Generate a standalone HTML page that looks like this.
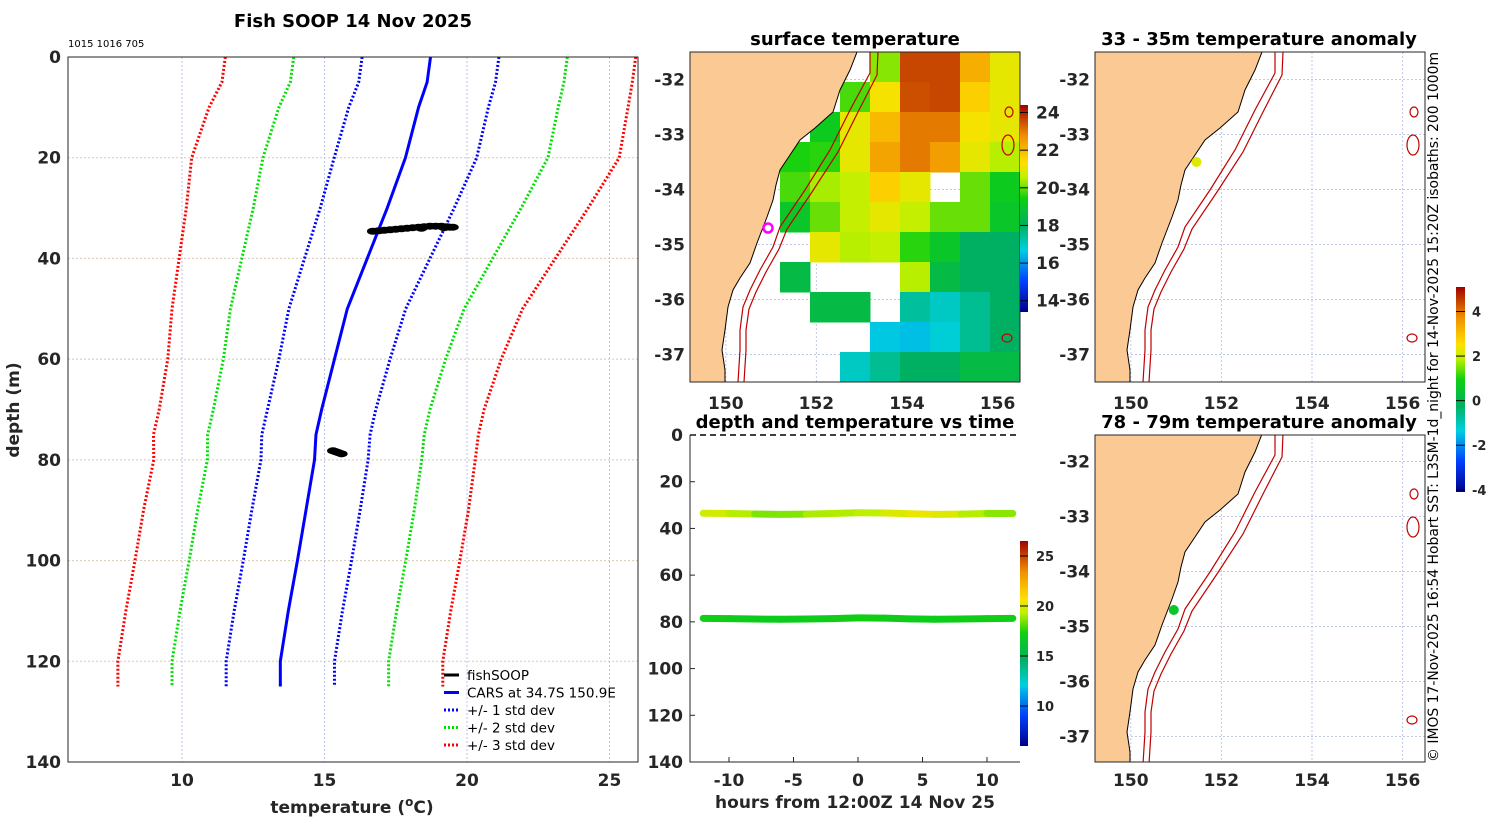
<!DOCTYPE html>
<html><head><meta charset="utf-8">
<style>
html,body{margin:0;padding:0;background:#fff;}
svg{display:block;font-family:"DejaVu Sans","Liberation Sans",sans-serif;}
.t{font-weight:bold;fill:#262626;font-size:17px;}
.ttl{font-weight:bold;fill:#000;font-size:18px;}
</style></head>
<body>
<svg id="fig" width="1500" height="820" viewBox="0 0 1500 820" xmlns="http://www.w3.org/2000/svg">
<defs>
<clipPath id="cpM"><rect x="690" y="52" width="330" height="330"/></clipPath>
<clipPath id="cpR1"><rect x="1095" y="52" width="330" height="330"/></clipPath>
<clipPath id="cpR2"><rect x="1095" y="435" width="330" height="327"/></clipPath>
<linearGradient id="gSST" x1="0" y1="1" x2="0" y2="0">
<stop offset="0" stop-color="#00008b"/><stop offset="0.15" stop-color="#0040ff"/><stop offset="0.3" stop-color="#00d0e0"/><stop offset="0.42" stop-color="#00b060"/><stop offset="0.55" stop-color="#10d010"/><stop offset="0.65" stop-color="#c0f000"/><stop offset="0.72" stop-color="#ffe000"/><stop offset="0.85" stop-color="#f09000"/><stop offset="1" stop-color="#a00000"/>
</linearGradient>
</defs>
<g id="root"></g>
</svg>
<script>
// ---------- data ----------
const depthLevels = [0,5,10,20,30,40,50,60,70,75,80,90,100,110,120,125];
const carsTemp = [18.72,18.6,18.3,17.84,17.2,16.5,15.8,15.35,14.9,14.7,14.65,14.35,14.05,13.73,13.45,13.45];
const carsStd = [2.4,2.4,2.45,2.5,2.35,2.2,2.05,1.95,1.9,1.9,1.88,1.9,1.9,1.9,1.9,1.9];
const soopDepth = [34.6,34.5,34.4,34.3,34.2,34.1,34.0,33.9,33.8,33.7,33.6,33.6,33.6,33.7,33.8,33.8,33.9,34.0,78.2,78.4,78.6,78.8];
const soopTemp = [16.7,16.9,17.1,17.3,17.5,17.7,17.9,18.1,18.3,18.5,18.7,18.9,19.1,19.3,19.4,19.5,19.2,18.4,15.3,15.4,15.5,15.6];
const tsHours = [-12,-10,-8,-6,-4,-2,0,2,4,6,8,10,12];
const tsDepth1 = [33.5,33.6,33.8,34.0,33.9,33.6,33.3,33.4,33.7,34.0,33.9,33.6,33.6];
const tsTemp1 = [19.8,19.6,18.8,18.3,18.9,19.3,19.0,19.6,20.2,20.4,19.6,18.8,18.6];
const tsDepth2 = [78.5,78.6,78.8,78.9,78.8,78.6,78.3,78.4,78.7,78.9,78.8,78.6,78.5];
const tsTemp2 = [17.2,17.0,16.9,16.8,16.9,17.0,17.2,17.1,17.0,16.9,17.0,17.1,17.2];
// SST grid: 11x11 cells over map, null = no data
const sstGrid = [
[null,null,null,null,null,null,20.2,23.6,23.6,22.2,21.0],
[null,null,null,null,null,19.8,21.2,23.5,23.6,21.6,21.0],
[null,null,null,null,19.2,21.0,22.0,23.0,23.0,21.2,21.0],
[null,null,null,19.5,19.6,21.0,22.4,23.0,22.5,21.0,20.5],
[null,null,null,19.8,20.4,20.6,21.6,21.0,null,20.0,19.2],
[null,null,null,19.0,20.0,20.6,21.0,20.6,20.0,20.0,19.0],
[null,null,null,null,21.0,20.5,20.6,19.6,19.0,18.0,18.0],
[null,null,null,18.5,null,null,null,20.5,18.5,18.0,18.0],
[null,null,null,null,18.5,18.5,null,17.4,17.0,17.5,18.0],
[null,null,null,null,null,null,16.6,16.5,16.8,17.5,18.0],
[null,null,null,null,null,17.0,17.5,18.0,18.0,18.5,18.5]];
const sstTicks = [14,16,18,20,22,24];
const tsTicks = [10,15,20,25];
const anomTicks = [-4,-2,0,2,4];
const anom1 = 2.2, anom2 = 0.6;

// ---------- helpers ----------
const NS="http://www.w3.org/2000/svg";
const root=document.getElementById('root');
function el(tag,attrs,parent,txt){const e=document.createElementNS(NS,tag);for(const k in attrs)e.setAttribute(k,attrs[k]);if(txt!==undefined)e.textContent=txt;(parent||root).appendChild(e);return e;}
const stops=[[0,[0,0,139]],[0.15,[0,64,255]],[0.3,[0,208,224]],[0.42,[0,176,96]],[0.55,[16,208,16]],[0.65,[192,240,0]],[0.72,[255,224,0]],[0.85,[240,144,0]],[1,[160,0,0]]];
function cmap(t){t=Math.max(0,Math.min(1,t));for(let i=1;i<stops.length;i++){if(t<=stops[i][0]){const a=stops[i-1],b=stops[i],f=(t-a[0])/(b[0]-a[0]);const c=a[1].map((v,j)=>Math.round(v+(b[1][j]-v)*f));return `rgb(${c[0]},${c[1]},${c[2]})`;}}return 'rgb(160,0,0)';}

// ---------- left profile panel ----------
const L={x0:68,x1:638,y0:57,y1:762,tmin:6,tmax:26,dmax:140};
const px=t=>L.x0+(t-L.tmin)*(L.x1-L.x0)/(L.tmax-L.tmin);
const py=d=>L.y0+d*(L.y1-L.y0)/L.dmax;
const gL=el('g',{});


[10,15,20,25].forEach(t=>{const g=el('line',{x1:px(t),x2:px(t),y1:L.y0,y2:L.y1,stroke:'#b8c4e8','stroke-width':1,'stroke-dasharray':'2,2'},gL);
 const lb=el('text',{x:px(t),y:786,'text-anchor':'middle',class:'t'},gL,String(t));});
[0,20,40,60,80,100,120,140].forEach(d=>{if(d>0&&d<140){const g=el('line',{x1:L.x0,x2:L.x1,y1:py(d),y2:py(d),stroke:'#d8c8b8','stroke-width':1,'stroke-dasharray':'2,2'},gL);}
 const lb=el('text',{x:61,y:py(d)+6,'text-anchor':'end',class:'t'},gL,String(d));});
const sdCols=['#0000ff','#00e000','#ff0000'];
[1,2,3].forEach(k=>{[-1,1].forEach(s=>{const pts=depthLevels.map((d,i)=>px(carsTemp[i]+s*k*carsStd[i])+','+py(d)).join(' ');
 const p=el('polyline',{points:pts,fill:'none',stroke:sdCols[k-1],'stroke-width':3,'stroke-dasharray':'2,2'},gL);});});
const cars=el('polyline',{points:depthLevels.map((d,i)=>px(carsTemp[i])+','+py(d)).join(' '),fill:'none',stroke:'#0000ff','stroke-width':3},gL);

soopTemp.forEach((t,i)=>{const c=el('ellipse',{cx:px(t),cy:py(soopDepth[i]),rx:6,ry:3.5,fill:'#000'},gL);});
el('rect',{x:L.x0,y:L.y0,width:L.x1-L.x0,height:L.y1-L.y0,fill:'none',stroke:'#262626','stroke-width':1},gL);
const tt=el('text',{x:353,y:27,'text-anchor':'middle',class:'ttl'},gL,'Fish SOOP 14 Nov 2025');
const sm=el('text',{x:68,y:47,'font-size':10,fill:'#000'},gL,'1015 1016 705');
const yl=el('text',{x:0,y:0,transform:'translate(19,410) rotate(-90)','text-anchor':'middle',class:'t','font-size':18},gL,'depth (m)');
const xl=el('text',{x:352,y:813,'text-anchor':'middle',class:'t','font-size':18},gL);
xl.innerHTML='temperature (<tspan dy="-7" font-size="12">o</tspan><tspan dy="7">C)</tspan>';
// legend
const lg=el('g',{},gL);
const leg=[['fishSOOP','#000',null],['CARS at 34.7S 150.9E','#0000ff',null],['+/- 1 std dev','#0000ff','2,2'],['+/- 2 std dev','#00e000','2,2'],['+/- 3 std dev','#ff0000','2,2']];
leg.forEach((e,i)=>{const y=675+i*17.5;const ln=el('line',{x1:444,x2:459,y1:y,y2:y,stroke:e[1],'stroke-width':3},lg);if(e[2])ln.setAttribute('stroke-dasharray',e[2]);
 const tx=el('text',{x:467,y:y+5,'font-size':13.5,fill:'#000'},lg,e[0]);});

// ---------- maps ----------
const lonToX=lon=>690+(lon-149.21)*45.3;
const latToY=lat=>52+(-31.5-lat)*55;
const coast='690,52 857,52 850,70 840,90 833,112 815,128 800,140 790,155 780,170 776,185 773,200 767,217 762,230 757,243 750,263 740,278 733,290 728,307 725,330 722,350 725,370 725,382 690,382';
const iso1='870,52 870,73 850,110 830,150 805,190 780,227 773,247 760,270 750,290 743,307 740,330 740,350 738,382';
const iso2='878,52 877,75 858,112 838,152 812,192 787,229 779,249 766,272 756,292 749,309 746,330 746,350 744,382';
function drawBase(g,dx,dy){
 el('polygon',{points:coast,fill:'#fbc993',stroke:'#000','stroke-width':1,transform:`translate(${dx},${dy})`},g);
 [iso1,iso2].forEach(p=>el('polyline',{points:p,fill:'none',stroke:'#c00000','stroke-width':1.2,transform:`translate(${dx},${dy})`},g));
 [[1009,112,4,5],[1008,145,6,10],[1007,338,5,4]].forEach(c=>el('ellipse',{cx:c[0]+dx,cy:c[1]+dy,rx:c[2],ry:c[3],fill:'none',stroke:'#c00000','stroke-width':1.2},g));
}
function mapGrid(g,dx,dy){
 [150,152,154,156].forEach(l=>el('line',{x1:lonToX(l)+dx,x2:lonToX(l)+dx,y1:52+dy,y2:382+dy,stroke:'#c0c8e8','stroke-dasharray':'2,2'},g));
 [-32,-33,-34,-35,-36,-37].forEach(l=>el('line',{x1:690+dx,x2:1020+dx,y1:latToY(l)+dy,y2:latToY(l)+dy,stroke:'#c0c8e8','stroke-dasharray':'2,2'},g));
}
function mapLabels(g,dx,dy,lonY){
 [150,152,154,156].forEach(l=>{const t=el('text',{x:lonToX(l)+dx,y:lonY,'text-anchor':'middle',class:'t'},g,String(l));});
 [-32,-33,-34,-35,-36,-37].forEach(l=>{const t=el('text',{x:685+dx,y:latToY(l)+dy+6,'text-anchor':'end',class:'t'},g,String(l));});
}
// top middle SST
const gM=el('g',{});
const gMc=el('g',{'clip-path':'url(#cpM)'},gM);
mapGrid(gMc,0,0);
sstGrid.forEach((row,r)=>row.forEach((v,c)=>{if(v===null)return;const cell=el('rect',{x:690+c*30,y:52+r*30,width:30.5,height:30.5,fill:cmap((v-13.4)/11)},gMc);}));
drawBase(gMc,0,0);
const mk=el('circle',{cx:768,cy:228,r:4.5,fill:'none',stroke:'#ff00ff','stroke-width':2.5},gM);
el('rect',{x:690,y:52,width:330,height:330,fill:'none',stroke:'#262626'},gM);
mapLabels(gM,0,0,409);
const t2=el('text',{x:855,y:45,'text-anchor':'middle',class:'ttl'},gM,'surface temperature');
const cb1=el('rect',{x:1020,y:105,width:8,height:207,fill:'url(#gSST)'},gM);
sstTicks.forEach(v=>{const y=105+(24.4-v)/11*207;el('line',{x1:1020,x2:1028,y1:y,y2:y,stroke:'#000'},gM);const t=el('text',{x:1036,y:y+6,class:'t','font-size':15},gM,String(v));});

// right maps
function anomMap(dy,yTop,title,titleY,lonY,dotLon,dotLat,val,clip){
 const g=el('g',{});
 const gc=el('g',{'clip-path':clip},g);
 mapGrid(gc,405,dy);drawBase(gc,405,dy);
 const d=el('circle',{cx:lonToX(dotLon)+405,cy:latToY(dotLat)+dy,r:5,fill:cmap((val+4.1)/9.2)},g);
 el('rect',{x:1095,y:yTop,width:330,height:(dy?327:330),fill:'none',stroke:'#262626'},g);
 mapLabels(g,405,dy,lonY);
 const t=el('text',{x:1259,y:titleY,'text-anchor':'middle',class:'ttl'},g,title);
}
anomMap(0,52,'33 - 35m temperature anomaly',45,409,151.45,-33.5,anom1,'url(#cpR1)');
anomMap(382,435,'78 - 79m temperature anomaly',428,786,150.95,-34.7,anom2,'url(#cpR2)');
const cb3=el('rect',{x:1456,y:287,width:9,height:205,fill:'url(#gSST)'});
anomTicks.forEach(v=>{const y=287+(5.1-v)/9.2*205;el('line',{x1:1456,x2:1465,y1:y,y2:y,stroke:'#000'});const t=el('text',{x:1472,y:y+5,'font-weight':'bold','font-size':13,fill:'#262626'},root,String(v));});
const vt=el('text',{x:0,y:0,transform:'translate(1438,407) rotate(-90)','text-anchor':'middle','font-size':14,fill:'#000',textLength:710,lengthAdjust:'spacingAndGlyphs'},root,'© IMOS 17-Nov-2025 16:54 Hobart SST: L3SM-1d_night for 14-Nov-2025 15:20Z isobaths: 200  1000m');


// ---------- time series ----------
const T={x0:690,x1:1020,y0:435,y1:762};
const hx=h=>858+h*12.9;
const hy=d=>T.y0+d*(T.y1-T.y0)/140;
const gT=el('g',{});
[[tsDepth1,tsTemp1],[tsDepth2,tsTemp2]].forEach(([dd,tt])=>{for(let i=0;i<tsHours.length-1;i++){const s=el('line',{x1:hx(tsHours[i]),y1:hy(dd[i]),x2:hx(tsHours[i+1]),y2:hy(dd[i+1]),stroke:cmap(((tt[i]+tt[i+1])/2-6)/20.5),'stroke-width':7,'stroke-linecap':'round'},gT);}});
el('line',{x1:T.x0,x2:T.x1,y1:T.y0,y2:T.y0,stroke:'#000','stroke-width':1.5,'stroke-dasharray':'6,4'},gT);
el('polyline',{points:`${T.x0},${T.y0} ${T.x0},${T.y1} ${T.x1},${T.y1}`,fill:'none',stroke:'#262626'},gT);
[0,20,40,60,80,100,120,140].forEach(d=>{el('line',{x1:T.x0,x2:T.x0+5,y1:hy(d),y2:hy(d),stroke:'#262626'},gT);const t=el('text',{x:683,y:hy(d)+6,'text-anchor':'end',class:'t'},gT,String(d));});
[-10,-5,0,5,10].forEach(h=>{el('line',{x1:hx(h),x2:hx(h),y1:T.y1,y2:T.y1-5,stroke:'#262626'},gT);const t=el('text',{x:hx(h),y:786,'text-anchor':'middle',class:'t'},gT,String(h));});
const t3=el('text',{x:855,y:428,'text-anchor':'middle',class:'ttl'},gT,'depth and temperature vs time');
const t4=el('text',{x:855,y:808,'text-anchor':'middle',class:'t','font-size':18},gT,'hours from 12:00Z 14 Nov 25');
const cb2=el('rect',{x:1020,y:541,width:8,height:205,fill:'url(#gSST)'},gT);
tsTicks.forEach(v=>{const y=541+(26.5-v)/20.5*205;el('line',{x1:1020,x2:1028,y1:y,y2:y,stroke:'#000'},gT);const t=el('text',{x:1036,y:y+5,'font-weight':'bold','font-size':13,fill:'#262626'},gT,String(v));});
</script>
</body></html>
